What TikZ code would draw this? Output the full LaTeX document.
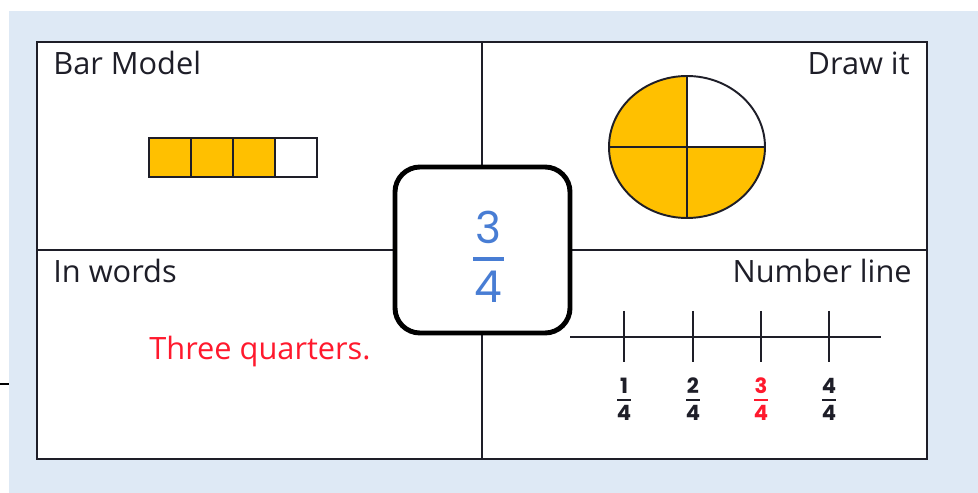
\documentclass[tikz,border=0pt]{standalone}
\usepackage{fontspec}
\setmainfont{Open Sans}
\newfontfamily\numfont{Poppins}
\usetikzlibrary{positioning}
\definecolor{bgblue}{RGB}{222,233,245}
\definecolor{gold}{RGB}{255,192,0}
\definecolor{fracblue}{RGB}{72,125,212}
\definecolor{wordred}{RGB}{255,25,45}
\definecolor{ink}{RGB}{30,30,40}

\begin{document}
\begin{tikzpicture}[x=0.2mm, y=-0.2mm, font=\fontsize{17.5}{20}\selectfont,
  title/.style={inner sep=0pt, text=ink},
  cell/.style={draw=ink, line width=0.8pt, minimum width=8.4mm, minimum height=7.8mm, inner sep=0pt},
  tickmark/.style={ink, line width=1.1pt},
  digit/.style={inner sep=0pt, font=\numfont\fontsize{12}{14}\selectfont\bfseries},
  smallbar/.style={fill, minimum width=2.8mm, minimum height=0.5mm, inner sep=0pt}]
\useasboundingbox (0,0) rectangle (978,493);
\fill[bgblue] (9,11) rectangle (978,493);
\draw[black, line width=1.1pt] (0,384) -- (9,384);
% frame and quarters
\draw[ink, line width=1.1pt, fill=white] (37,42) rectangle (927,459);
\draw[ink, line width=0.8pt] (482,42) -- (482,459);
\draw[ink, line width=0.8pt] (37,250) -- (927,250);

\node[title, anchor=base west] (tbar) at (53,75) {Bar Model};
\node[title, anchor=base east] (tdraw) at (910,75) {Draw it};
\node[title, anchor=base west] (twords) at (53,283) {In words};
\node[title, anchor=base east] (tline) at (912,283) {Number line};

% bar model
\foreach \i in {0,...,3} {
  \ifnum\i<3
    \node[cell, fill=gold] (b\i) at (170+42*\i,157.5) {};
  \else
    \node[cell, fill=white] (b\i) at (170+42*\i,157.5) {};
  \fi
}

% draw it
\coordinate (c) at (687,147);
\fill[gold] (c) ellipse [x radius=78, y radius=71];
\fill[white] (c) -- ++(78,0) arc [start angle=0, end angle=-90, x radius=78, y radius=71] -- cycle;
\draw[ink, line width=1.1pt] (c) ellipse [x radius=78, y radius=71];
\draw[ink, line width=0.9pt] (609,147) -- (765,147);
\draw[ink, line width=0.9pt] (687,76) -- (687,218);

% in words
\node[inner sep=0pt, text=wordred] (words) at (260,352) {Three quarters.};

% number line
\draw[tickmark] (570,337) -- (881,337);
\foreach \x/\n [count=\k] in {624/1,693/2,761/3,829/4} {
  \draw[tickmark] (\x,311) -- (\x,362);
  \ifnum\k=3 \def\col{wordred}\else\def\col{ink}\fi
  \node[smallbar, \col] (fb\k) at (\x,400) {};
  \node[digit, text=\col] (fn\k) at (\x,386) {\n};
  \node[digit, text=\col] (fd\k) at (\x,413) {4};
}

% centre fraction
\node[draw=black, line width=2.8pt, rounded corners=5mm, fill=white,
  minimum width=35mm, minimum height=33.2mm] (frac) at (482.5,250) {};
\node[fill=fracblue, minimum width=6.2mm, minimum height=0.8mm, inner sep=0pt] (fbar) at (488,259) {};
\node[inner sep=0pt, text=fracblue, font=\numfont\fontsize{25}{28}\selectfont] (fnum) at (488,227) {3};
\node[inner sep=0pt, text=fracblue, font=\numfont\fontsize{25}{28}\selectfont] (fden) at (488,287) {4};
\end{tikzpicture}
\end{document}
